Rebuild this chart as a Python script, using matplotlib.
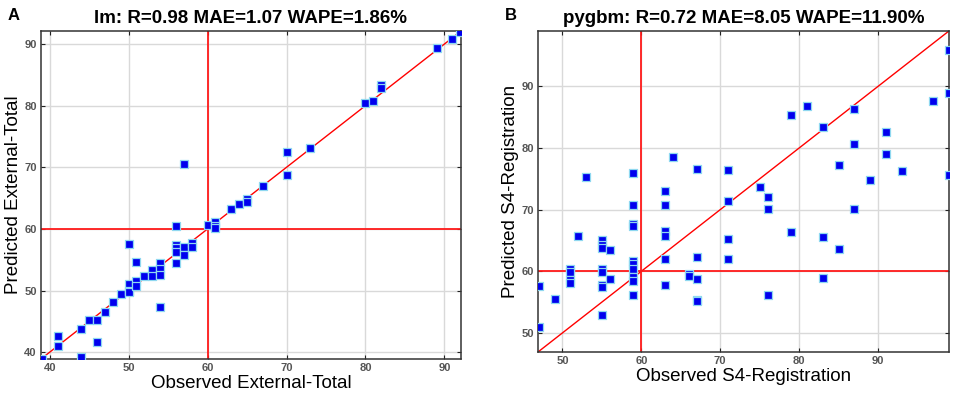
import matplotlib
matplotlib.use('Agg')
import matplotlib.pyplot as plt

matplotlib.rcParams['font.family'] = ['Liberation Sans', 'DejaVu Sans']

# panel A: lm, External-Total
obs_a = [39, 41, 41, 44, 44, 45, 46, 46, 47, 48, 49, 50, 50, 50, 50,
         51, 51, 51, 52, 53, 53, 54, 54, 54, 54, 56, 56, 56, 56, 56,
         57, 57, 57, 58, 58, 60, 61, 61, 61, 63, 64, 65, 65, 67, 70,
         70, 73, 80, 81, 82, 82, 89, 91, 92]
pred_a = [38.9, 42.7, 41.0, 43.8, 39.2, 45.3, 45.3, 41.6, 46.6, 48.1, 49.4, 57.5, 51.1, 49.9, 49.8,
          54.6, 51.5, 50.8, 52.3, 53.3, 52.4, 54.4, 53.5, 52.6, 47.3, 60.4, 57.4, 56.9, 56.2, 54.5,
          70.5, 57.1, 55.8, 57.8, 57.1, 60.6, 61.2, 60.5, 60.1, 63.3, 64.0, 64.9, 64.3, 66.9, 72.5,
          68.8, 73.2, 80.5, 80.7, 83.4, 82.8, 89.4, 90.8, 92.0]

# panel B: pygbm, S4-Registration
obs_b = [47, 47, 49, 51, 51, 51, 51, 52, 53, 55, 55, 55, 55, 55, 55, 55, 55,
         56, 56, 59, 59, 59, 59, 59, 59, 59, 59, 59, 59, 63, 63, 63, 63, 63, 63,
         64, 66, 66, 67, 67, 67, 67, 67, 71, 71, 71, 71, 75, 76, 76, 76, 79, 79,
         81, 83, 83, 83, 85, 85, 87, 87, 87, 89, 91, 91, 93, 97, 99, 99, 99]
pred_b = [57.6, 51.0, 55.5, 60.4, 59.8, 58.6, 58.1, 65.7, 75.3, 65.1, 64.3, 63.7, 60.4, 59.8, 57.8, 57.5, 52.9,
          63.5, 58.8, 75.9, 70.8, 67.7, 67.3, 61.6, 61.1, 60.4, 59.1, 58.4, 56.1, 73.0, 70.8, 66.6, 65.7, 62.0, 57.7,
          78.6, 59.6, 59.3, 76.6, 62.3, 58.8, 55.4, 55.2, 76.4, 71.4, 65.2, 62.0, 73.7, 72.0, 70.1, 56.2, 85.4, 66.3,
          86.8, 83.4, 65.6, 58.9, 77.2, 63.6, 86.3, 80.6, 70.1, 74.8, 82.6, 79.1, 76.3, 87.6, 95.9, 88.9, 75.7]

panels = [
    ('A', 'lm: R=0.98 MAE=1.07 WAPE=1.86%', 'Observed External-Total',
     'Predicted External-Total', obs_a, pred_a, (38.9, 92.1),
     [0.0428, 0.0957, 0.4389, 0.826], 0.008),
    ('B', 'pygbm: R=0.72 MAE=8.05 WAPE=11.90%', 'Observed S4-Registration',
     'Predicted S4-Registration', obs_b, pred_b, (46.9, 99.0),
     [0.5622, 0.1134, 0.4294, 0.8086], 0.528),
]

fig = plt.figure(figsize=(9.57, 3.97), dpi=100)
fig.patch.set_facecolor('white')

for tag, title, xlab, ylab, x, y, lim, rect, tag_x in panels:
    ax = fig.add_axes(rect)
    ax.set_xlim(*lim)
    ax.set_ylim(*lim)
    ax.grid(True, color='#d9d9d9', linewidth=1.0)
    ax.set_axisbelow(True)
    ax.plot(lim, lim, color='#ff0000', linewidth=1.0, zorder=2)
    ax.axvline(60, color='#ff1a1a', linewidth=1.3, zorder=2)
    ax.axhline(60, color='#ff1a1a', linewidth=1.3, zorder=2)
    ax.scatter(x, y, marker='s', s=26, color='#0000ee',
               edgecolors='#8fd8f0', linewidths=0.9, zorder=3)
    ax.set_title(title, fontsize=13.5, fontweight='bold', pad=6)
    ax.set_xlabel(xlab, fontsize=13.5, labelpad=1)
    ax.set_ylabel(ylab, fontsize=13.5, labelpad=2)
    ax.tick_params(direction='in', top=True, right=True, length=3,
                   labelsize=8, labelcolor='#555555', color='#222222', pad=3)
    for lbl in ax.get_xticklabels() + ax.get_yticklabels():
        lbl.set_fontweight('bold')
    for sp in ax.spines.values():
        sp.set_color('#333333')
        sp.set_linewidth(1.1)
    fig.text(tag_x, 0.962, tag, fontsize=12, fontweight='bold', ha='left', va='center')

plt.savefig('out.png', dpi=100, facecolor='white')
